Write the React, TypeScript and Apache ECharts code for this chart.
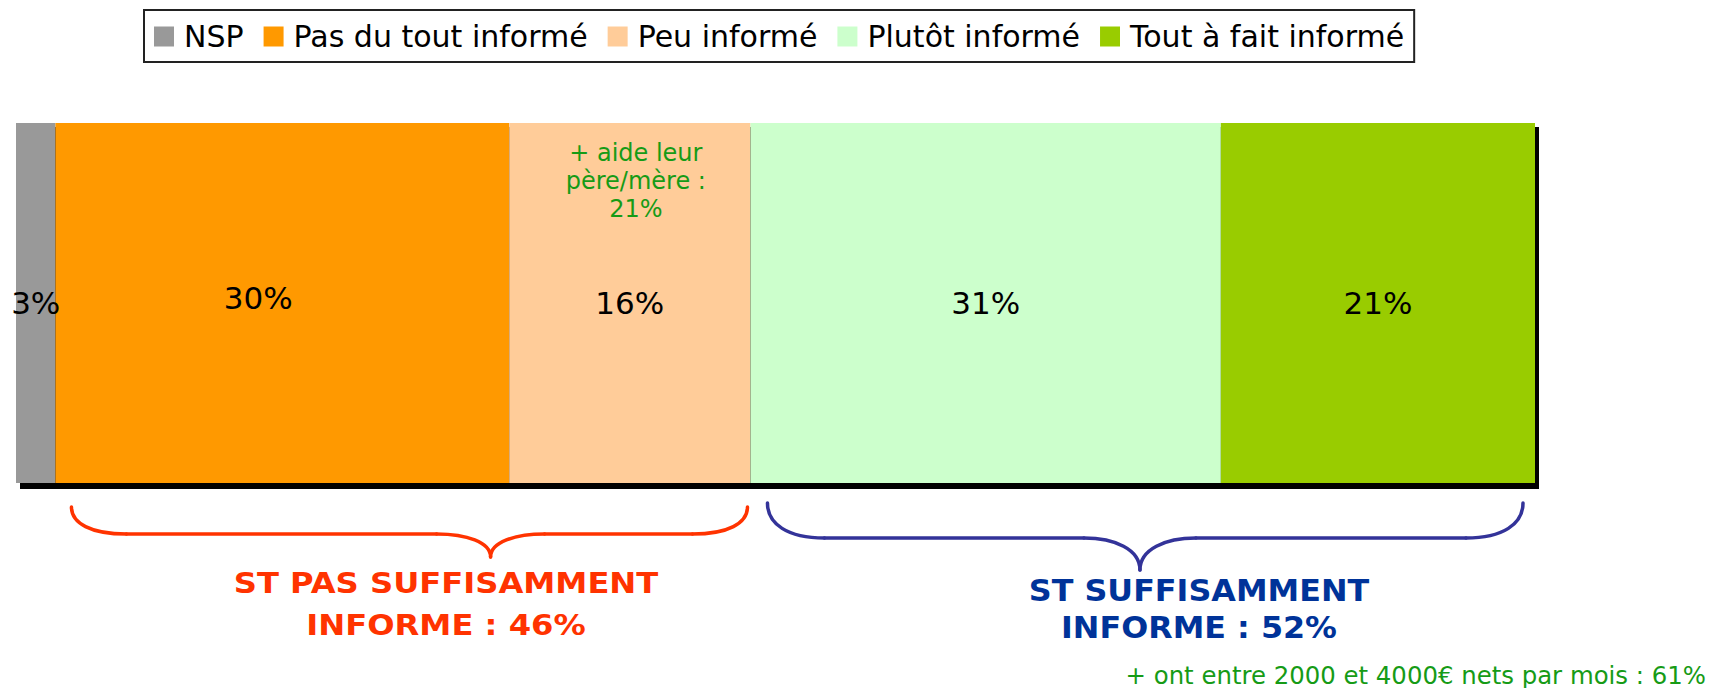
import React, { useEffect, useRef } from "react";
import * as echarts from "echarts";

const categories = ["Total"];
const seriesNames = ["NSP", "Pas du tout informé", "Peu informé", "Plutôt informé", "Tout à fait informé"];
const seriesValues = [2.6, 29.9, 15.9, 31.0, 20.7];
const seriesLabels = ["3%", "30%", "16%", "31%", "21%"];
const colors = ["#999999", "#FF9900", "#FFCC99", "#CCFFCC", "#99CC00"];
const groupLabels = ["ST PAS SUFFISAMMENT\nINFORME : 46%", "ST SUFFISAMMENT\nINFORME : 52%"];
const noteInBar = "+ aide leur\npère/mère :\n21%";
const noteBottom = "+ ont entre 2000 et 4000€ nets par mois : 61%";

const FONT = "DejaVu Sans";
const labelOffsets = [[0, 0], [-24, -5], [0, 0], [0, 0], [0, 0]];

function brace(x0: number, x1: number, xm: number, yT: number, yH: number, yP: number, ew: number, mw: number, color: string) {
  const style = { stroke: color, lineWidth: 3.5, fill: null, lineCap: "round" };
  const els: any[] = [];
  els.push({ type: "bezierCurve", z: 50, shape: { x1: x0, y1: yT, cpx1: x0, cpy1: yT + (yH - yT) * 0.6, cpx2: x0 + ew * 0.35, cpy2: yH, x2: x0 + ew, y2: yH }, style });
  els.push({ type: "line", z: 50, shape: { x1: x0 + ew, y1: yH, x2: xm - mw, y2: yH }, style });
  els.push({ type: "bezierCurve", z: 50, shape: { x1: xm - mw, y1: yH, cpx1: xm - mw * 0.45, cpy1: yH, cpx2: xm, cpy2: yH + (yP - yH) * 0.35, x2: xm, y2: yP }, style });
  els.push({ type: "bezierCurve", z: 50, shape: { x1: xm, y1: yP, cpx1: xm, cpy1: yH + (yP - yH) * 0.35, cpx2: xm + mw * 0.45, cpy2: yH, x2: xm + mw, y2: yH }, style });
  els.push({ type: "line", z: 50, shape: { x1: xm + mw, y1: yH, x2: x1 - ew, y2: yH }, style });
  els.push({ type: "bezierCurve", z: 50, shape: { x1: x1 - ew, y1: yH, cpx1: x1 - ew * 0.35, cpy1: yH, cpx2: x1, cpy2: yT + (yH - yT) * 0.6, x2: x1, y2: yT }, style });
  return els;
}

export default function App() {
  const ref = useRef<HTMLDivElement>(null);
  useEffect(() => {
    if (!ref.current) return;
    const chart = echarts.init(ref.current, null, { renderer: "svg" });
    const total = seriesValues.reduce((a, b) => a + b, 0);
    const gridTop = 123;
    const gridHeight = 360;
    chart.setOption({
      animation: false,
      legend: {
        data: seriesNames,
        left: 144,
        top: 10,
        orient: "horizontal",
        icon: "rect",
        itemWidth: 20,
        itemHeight: 20,
        itemGap: 20,
        padding: [11, 10, 10, 10],
        borderColor: "#222",
        borderWidth: 2,
        selectedMode: false,
        textStyle: { fontFamily: FONT, fontSize: 30, color: "#000", lineHeight: 31, padding: [0, 0, 0, 5] },
      },
      grid: { left: 16, top: gridTop, width: 1519, height: gridHeight },
      xAxis: { type: "value", min: 0, max: total, show: false },
      yAxis: { type: "category", data: categories, show: false },
      series: seriesNames.map((name, i) => ({
        name,
        type: "bar",
        stack: "total",
        barWidth: "100%",
        data: [seriesValues[i]],
        itemStyle: { color: colors[i] },
        label: {
          show: true,
          position: "inside",
          offset: labelOffsets[i],
          formatter: seriesLabels[i],
          fontFamily: FONT,
          fontSize: 31,
          color: "#000",
          textBorderWidth: 0,
        },
      })),
    });

    const px = (v: number) => (chart.convertToPixel({ gridIndex: 0 } as any, [v, 0]) as number[])[0];
    const cum: number[] = [0];
    seriesValues.forEach((v) => cum.push(cum[cum.length - 1] + v));
    const xStart = px(0);
    const xEnd = px(total);

    const r0 = px(cum[1]) + 16;
    const r1 = px(cum[3]) - 3;
    const rm = r0 + (r1 - r0) * 0.62;
    const b0 = px(cum[3]) + 17;
    const b1 = px(cum[5]) - 12;
    const bm = b0 + (b1 - b0) * 0.493;

    const peachCenter = (px(cum[2]) + px(cum[3])) / 2;

    const elements: any[] = [
      {
        type: "rect",
        z: -10,
        shape: { x: xStart + 4, y: gridTop + 4, width: xEnd - xStart, height: gridHeight + 2 },
        style: { fill: "#000" },
      },
      ...brace(r0, r1, rm, 507, 534, 557, 55, 54, "#FF3300"),
      ...brace(b0, b1, bm, 503, 538, 570, 57, 56, "#333399"),
      {
        type: "text",
        z: 100,
        x: 446,
        y: 604,
        scaleX: 1.15,
        style: {
          text: groupLabels[0],
          fontFamily: FONT,
          fontSize: 28,
          fontWeight: "bold",
          lineHeight: 42,
          fill: "#FF3300",
          align: "center",
          verticalAlign: "middle",
        },
      },
      {
        type: "text",
        z: 100,
        x: 1199,
        y: 609,
        scaleX: 1.06,
        style: {
          text: groupLabels[1],
          fontFamily: FONT,
          fontSize: 30,
          fontWeight: "bold",
          lineHeight: 37,
          fill: "#003399",
          align: "center",
          verticalAlign: "middle",
        },
      },
      {
        type: "text",
        z: 100,
        x: peachCenter + 6,
        y: 181,
        style: {
          text: noteInBar,
          fontFamily: FONT,
          fontSize: 24,
          lineHeight: 28,
          fill: "#169B16",
          align: "center",
          verticalAlign: "middle",
        },
      },
      {
        type: "text",
        z: 100,
        x: 1706,
        y: 675,
        style: {
          text: noteBottom,
          fontFamily: FONT,
          fontSize: 24.4,
          fill: "#169B16",
          align: "right",
          verticalAlign: "middle",
        },
      },
    ];
    chart.setOption({ graphic: { elements } });
    return () => chart.dispose();
  }, []);
  return (
    <div
      ref={ref}
      style={{ position: "fixed", left: 0, top: 0, width: 1712, height: 688, background: "#fff" }}
    />
  );
}
